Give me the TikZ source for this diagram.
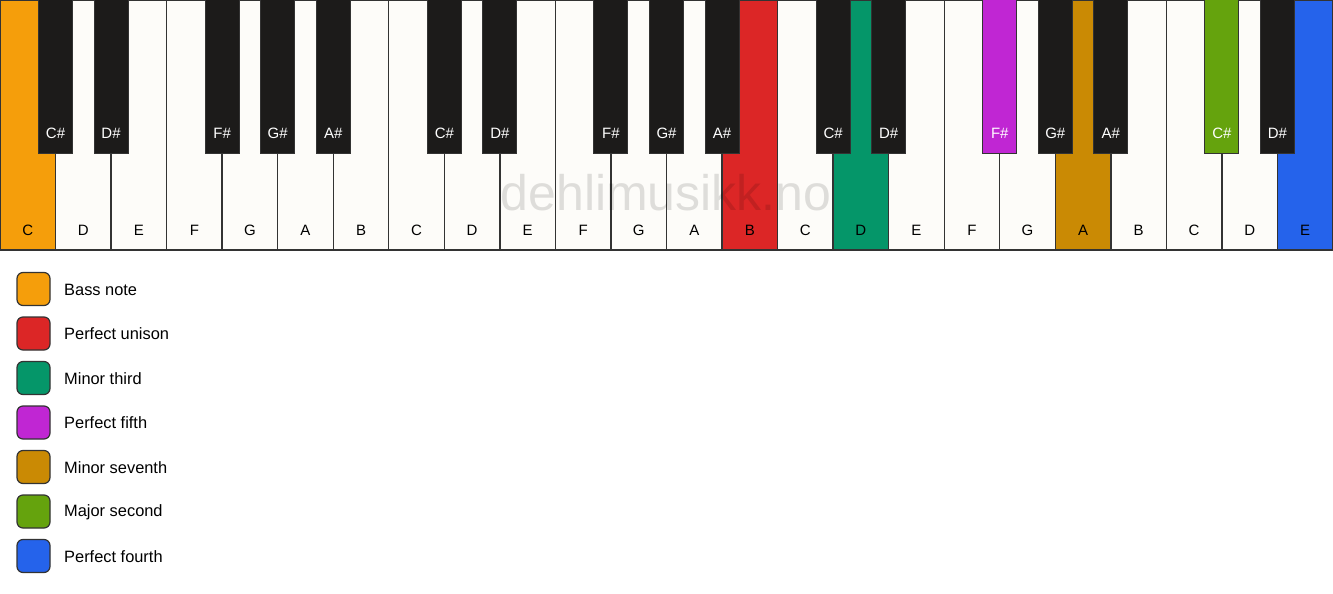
\documentclass[tikz,border=0pt]{standalone}
\usepackage{fontspec}
\setmainfont{Liberation Sans}
\definecolor{keywhite}{HTML}{FDFCF9}
\definecolor{keyblack}{HTML}{1C1B1A}
\definecolor{keyline}{HTML}{333333}
\definecolor{bass}{HTML}{F59E0B}
\definecolor{unison}{HTML}{DC2626}
\definecolor{minthird}{HTML}{059669}
\definecolor{pfifth}{HTML}{C026D3}
\definecolor{minseventh}{HTML}{CA8A04}
\definecolor{majsecond}{HTML}{65A30D}
\definecolor{pfourth}{HTML}{2563EB}
\tikzset{
  whitekey/.style={draw=keyline, line width=1.4pt, minimum width=55.54pt, minimum height=250pt, inner sep=0pt, outer sep=0pt},
  blackkey/.style={draw=keyline, line width=1pt, minimum width=34pt, minimum height=153pt, inner sep=0pt, outer sep=0pt},
  wlabel/.style={font=\fontsize{15}{18}\selectfont, text=black, inner sep=0pt},
  blabel/.style={font=\fontsize{15}{18}\selectfont, text=white, inner sep=0pt},
  legbox/.style={draw=keyline, line width=1.2pt, rounded corners=6pt, minimum width=33pt, minimum height=33pt, inner sep=0pt},
  legtext/.style={font=\fontsize{16.4}{19}\selectfont, anchor=west, inner sep=0pt},
  watermark/.style={font=\fontsize{50}{58}\selectfont, text=black, opacity=0.12, inner sep=0pt}
}
\begin{document}
\begin{tikzpicture}[x=1pt,y=-1pt]
\useasboundingbox (0,0) rectangle (1333,594);
\fill[white] (0,0) rectangle (1333,594);
\def\W{55.5417}
\foreach \n/\c [count=\i from 0] in {C/bass,D/keywhite,E/keywhite,F/keywhite,G/keywhite,A/keywhite,B/keywhite,C/keywhite,D/keywhite,E/keywhite,F/keywhite,G/keywhite,A/keywhite,B/unison,C/keywhite,D/minthird,E/keywhite,F/keywhite,G/keywhite,A/minseventh,B/keywhite,C/keywhite,D/keywhite,E/pfourth} {
  \node[whitekey, fill=\c] (w\i) at ({(\i+0.5)*\W}, 125) {};
  \node[wlabel] (wl\i) at ({(\i+0.5)*\W}, 230) {\n};
}
\node[watermark] (wm) at (666, 193) {dehlimusikk.no};
\foreach \p/\n/\c in {1/C\#/keyblack,2/D\#/keyblack,4/F\#/keyblack,5/G\#/keyblack,6/A\#/keyblack,8/C\#/keyblack,9/D\#/keyblack,11/F\#/keyblack,12/G\#/keyblack,13/A\#/keyblack,15/C\#/keyblack,16/D\#/keyblack,18/F\#/pfifth,19/G\#/keyblack,20/A\#/keyblack,22/C\#/majsecond,23/D\#/keyblack} {
  \node[blackkey, fill=\c] (b\p) at ({\p*\W}, 76.5) {};
  \node[blabel] (bl\p) at ({\p*\W}, 133) {\n};
}
\foreach \c/\t [count=\k from 0] in {bass/Bass note,unison/Perfect unison,minthird/Minor third,pfifth/Perfect fifth,minseventh/Minor seventh,majsecond/Major second,pfourth/Perfect fourth} {
  \node[legbox, fill=\c] (lg\k) at (33.5, {289+44.5*\k}) {};
  \node[legtext] (lt\k) at (64, {289.5+44.5*\k}) {\t};
}
\end{tikzpicture}
\end{document}
